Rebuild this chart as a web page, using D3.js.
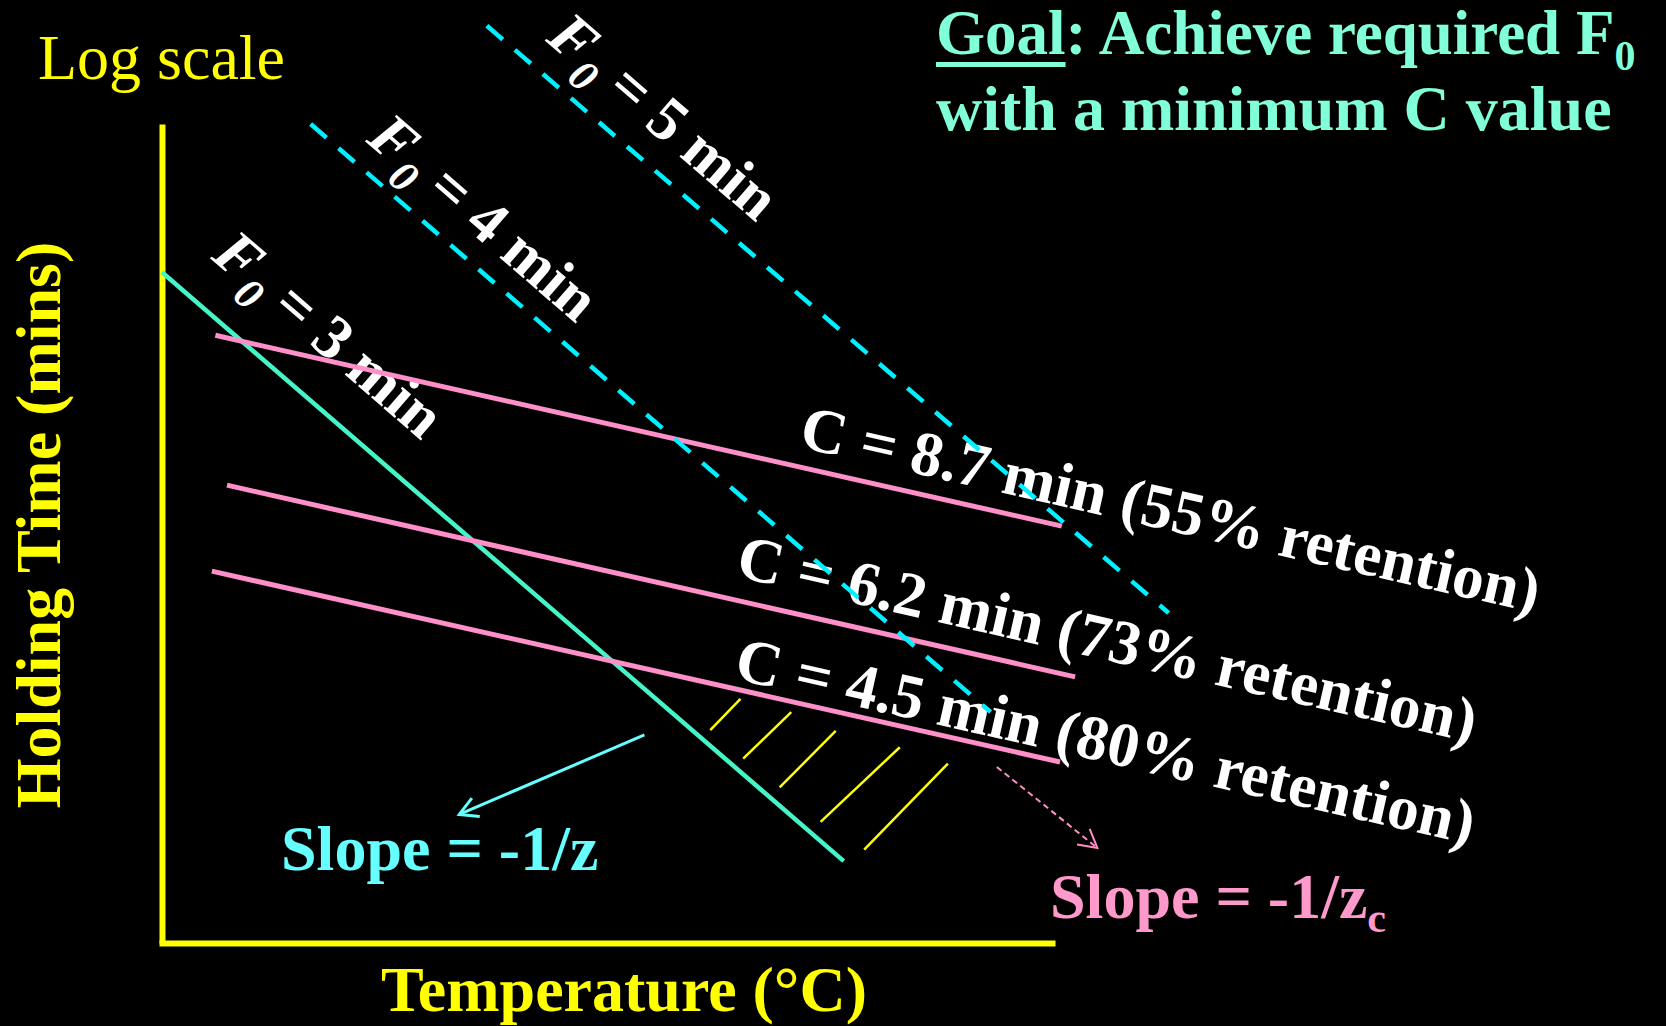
<!DOCTYPE html>
<html>
<head>
<meta charset="utf-8">
<script src="https://cdn.jsdelivr.net/npm/d3@7"></script>
<style>
  body { margin: 0; background: #000; }
  svg { display: block; font-family: 'Liberation Serif', 'Times New Roman', serif; }
  text { white-space: pre; }
</style>
</head>
<body>
<div class="graph"><svg></svg></div>
<script>
// Schematic plot: temperature on x, log holding time on y. The original has no ticks,
// so both axes use an arbitrary 0-100 unit range.
const xDomain = [0, 100]
const yDomain = [0, 100]

// Lethality lines (F0) - start and end points in data units
const f0Values = [3, 4, 5]
const f0Starts = [[0, 81.9], [16.7, 100.0], [36.5, 112.0]]
const f0Ends = [[76.6, 10.0], [93.1, 28.2], [113.1, 40.3]]
const f0LabelAt = [[5.4, 83.6], [22.8, 97.9], [43.0, 110.2]]

// Cook value lines (C) with quality retention
const cValues = ['8.7', '6.2', '4.5']
const cRetention = [55, 73, 80]
const cStarts = [[6.0, 74.2], [7.3, 55.9], [5.6, 45.4]]
const cEnds = [[101.1, 50.9], [102.6, 32.5], [100.9, 22.1]]
const cLabelAt = [[71.4, 60.6], [64.3, 44.8], [64.1, 32.3]]

// Hatching of the feasible region
const hatchTops = [[65.0, 29.8], [70.7, 28.2], [75.7, 25.9], [82.9, 23.9], [88.3, 21.9]]
const hatchBottoms = [[61.6, 26.0], [65.3, 22.5], [69.4, 19.0], [74.0, 14.8], [78.9, 11.4]]

// Pointer arrows for the two slope notes
const zArrow = [[54.2, 25.4], [33.4, 15.7]]
const zcArrow = [[93.8, 21.5], [105.1, 11.6]]

const YELLOW = '#ffff00'
const GREEN = '#45f5c8'
const PINK = '#ff8fc8'
const CYAN = '#00f0ff'
const TEAL = '#80ffd8'

const x = d3.scaleLinear().domain(xDomain).range([162, 1052])
const y = d3.scaleLinear().domain(yDomain).range([943, 124])
const line = d3.line().x(d => x(d[0])).y(d => y(d[1]))

/**
 * Angle in degrees of the segment from start to end, in screen space.
 *
 * @param {number[]} start The first point in data units
 * @param {number[]} end The last point in data units
 * @returns {number} The angle
 */
function angleOf (start, end) {
  return Math.atan2(y(end[1]) - y(start[1]), x(end[0]) - x(start[0])) * 180 / Math.PI
}

/**
 * Adds an open chevron arrow head marker.
 *
 * @param {*} defs The d3 Selection of the defs element
 * @param {string} id The marker id
 * @param {string} color The stroke color
 * @param {number} width The stroke width
 */
function appendMarker (defs, id, color, width) {
  defs.append('marker')
    .attr('id', id)
    .attr('viewBox', '-24 -14 28 28')
    .attr('refX', 0)
    .attr('refY', 0)
    .attr('markerUnits', 'userSpaceOnUse')
    .attr('markerWidth', 28)
    .attr('markerHeight', 28)
    .attr('orient', 'auto')
    .append('path')
    .attr('d', 'M-18,-10L0,0L-18,10')
    .attr('fill', 'none')
    .attr('stroke', color)
    .attr('stroke-width', width)
    .attr('stroke-dasharray', 'none')
}

const svg = d3.select('.graph').select('svg')
  .attr('width', 1666)
  .attr('height', 1026)

const defs = svg.append('defs')
appendMarker(defs, 'head-cyan', '#66ffff', 3)
appendMarker(defs, 'head-pink', PINK, 2)

const g = svg.append('g').attr('id', 'graph-g')

// axes with no ticks, only the domain line
g.append('g')
  .attr('class', 'x axis')
  .attr('transform', 'translate(0,' + y(0) + ')')
  .call(d3.axisBottom(x).tickValues([]).tickSizeOuter(0))
  .select('.domain')
  .attr('stroke-linecap', 'square')

g.append('g')
  .attr('class', 'y axis')
  .attr('transform', 'translate(' + x(0) + ',0)')
  .call(d3.axisLeft(y).tickValues([]).tickSizeOuter(0))

g.selectAll('.axis .domain')
  .attr('stroke', YELLOW)
  .attr('stroke-width', 6)

// hatching
g.selectAll('.hatch')
  .data(hatchTops)
  .join('path')
  .attr('class', 'hatch')
  .attr('d', (d, i) => line([d, hatchBottoms[i]]))
  .attr('stroke', YELLOW)
  .attr('stroke-width', 2.5)

// F0 labels
const f0Label = g.selectAll('.f0-label')
  .data(f0Values)
  .join('text')
  .attr('class', 'f0-label')
  .attr('transform', (d, i) => 'translate(' + x(f0LabelAt[i][0]) + ',' + y(f0LabelAt[i][1]) + ') rotate(' + angleOf(f0Starts[i], f0Ends[i]) + ')')
  .attr('fill', '#ffffff')
  .attr('font-size', 62)
  .attr('font-weight', 'bold')

f0Label.append('tspan').attr('font-style', 'italic').text('F')
f0Label.append('tspan')
  .attr('font-style', 'italic')
  .attr('font-size', 44)
  .attr('dy', 16)
  .text('0')
f0Label.append('tspan').attr('dy', -16).text(d => ' = ' + d + ' min')

// C labels
g.selectAll('.c-label')
  .data(cValues)
  .join('text')
  .attr('class', 'c-label')
  .attr('transform', (d, i) => 'translate(' + x(cLabelAt[i][0]) + ',' + y(cLabelAt[i][1]) + ') rotate(' + angleOf(cStarts[i], cEnds[i]) + ')')
  .attr('fill', '#ffffff')
  .attr('font-size', 63)
  .attr('font-weight', 'bold')
  .text((d, i) => 'C = ' + d + ' min (' + cRetention[i] + '% retention)')

// F0 = 3 line (solid) drawn over the labels
g.append('path')
  .attr('d', line([f0Starts[0], f0Ends[0]]))
  .attr('stroke', GREEN)
  .attr('stroke-width', 4.5)
  .attr('fill', 'none')

g.selectAll('.c-line')
  .data(cValues)
  .join('path')
  .attr('class', 'c-line')
  .attr('d', (d, i) => line([cStarts[i], cEnds[i]]))
  .attr('stroke', PINK)
  .attr('stroke-width', 5)
  .attr('fill', 'none')

g.selectAll('.f0-dash')
  .data(f0Values.slice(1))
  .join('path')
  .attr('class', 'f0-dash')
  .attr('d', (d, i) => line([f0Starts[i + 1], f0Ends[i + 1]]))
  .attr('stroke', CYAN)
  .attr('stroke-width', 4.5)
  .attr('stroke-dasharray', '21,16')
  .attr('fill', 'none')

// arrows
g.append('path')
  .attr('d', line(zArrow))
  .attr('stroke', '#66ffff')
  .attr('stroke-width', 3)
  .attr('fill', 'none')
  .attr('marker-end', 'url(#head-cyan)')

g.append('path')
  .attr('d', line(zcArrow))
  .attr('stroke', PINK)
  .attr('stroke-width', 2)
  .attr('stroke-dasharray', '6,4')
  .attr('fill', 'none')
  .attr('marker-end', 'url(#head-pink)')

// slope notes
g.append('text')
  .text('Slope = -1/z')
  .attr('x', 281)
  .attr('y', 870)
  .attr('fill', '#66ffff')
  .attr('font-size', 64)
  .attr('font-weight', 'bold')

const zc = g.append('text')
  .attr('x', 1050)
  .attr('y', 918)
  .attr('fill', '#ff99cc')
  .attr('font-size', 64)
  .attr('font-weight', 'bold')
zc.append('tspan').text('Slope = -1/z')
zc.append('tspan').attr('font-size', 42).attr('dy', 14).text('c')

// axis titles
g.append('text')
  .text('Log scale')
  .attr('x', 38)
  .attr('y', 79)
  .attr('fill', YELLOW)
  .attr('font-size', 64)

g.append('text')
  .text('Holding Time (mins)')
  .attr('transform', 'translate(60,525) rotate(-90)')
  .attr('text-anchor', 'middle')
  .attr('fill', YELLOW)
  .attr('font-size', 64)
  .attr('font-weight', 'bold')

g.append('text')
  .text('Temperature (°C)')
  .attr('x', 624)
  .attr('y', 1011)
  .attr('text-anchor', 'middle')
  .attr('fill', YELLOW)
  .attr('font-size', 64)
  .attr('font-weight', 'bold')

// goal note
const goal = g.append('text')
  .attr('x', 936)
  .attr('y', 54)
  .attr('fill', TEAL)
  .attr('font-size', 63)
  .attr('font-weight', 'bold')
const goalWord = goal.append('tspan').text('Goal')
goal.append('tspan').text(': Achieve required F')
goal.append('tspan').attr('font-size', 42).attr('dy', 16).text('0')

g.append('rect')
  .attr('x', 936)
  .attr('y', 62)
  .attr('width', goalWord.node().getComputedTextLength())
  .attr('height', 5)
  .attr('fill', TEAL)

g.append('text')
  .text('with a minimum C value')
  .attr('x', 936)
  .attr('y', 130)
  .attr('fill', TEAL)
  .attr('font-size', 64)
  .attr('font-weight', 'bold')
</script>
</body>
</html>
